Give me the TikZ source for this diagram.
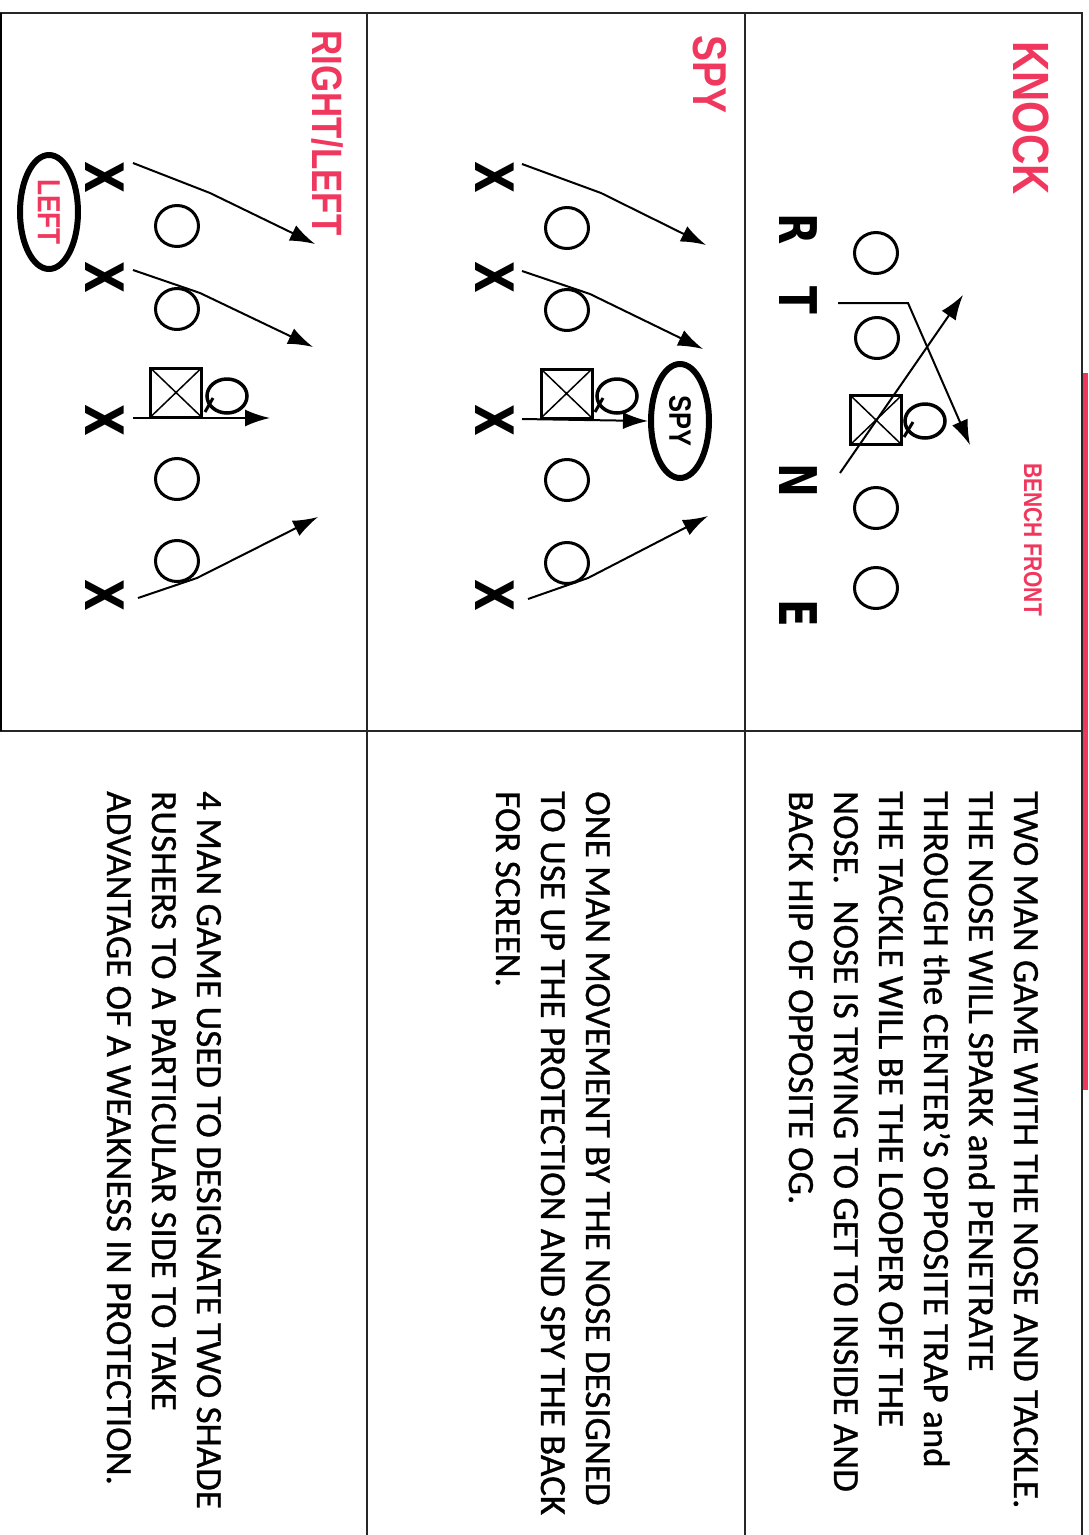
\documentclass[tikz,border=0pt]{standalone}
\usepackage{fontspec}
\setmainfont{Carlito}[FakeBold=0.8]
\newfontfamily\descfont{Carlito}[FakeBold=0.8]
\newfontfamily\titlefont{Liberation Sans}[FakeStretch=0.82]
\newfontfamily\heavyfont{DejaVu Sans}[FakeStretch=0.78]
\usetikzlibrary{arrows.meta,shapes.geometric}
\definecolor{pinkred}{RGB}{240,56,94}
\newcommand\setfs[1]{\fontsize{#1pt}{#1pt}\selectfont}
\begin{document}
\begin{tikzpicture}[x=1pt,y=-1pt,
  rt/.style={rotate=-90,anchor=base west,inner sep=0pt},
  desc/.style={rt,font=\descfont\setfs{37}},
  ttl/.style={rt,text=pinkred,font=\titlefont\bfseries},
  frame/.style={line width=2pt,draw=black!85},
  oman/.style={ellipse,draw,line width=3pt,minimum width=43pt,minimum height=41pt,inner sep=0pt},
  xman/.style={rotate=-90,inner sep=0pt,font=\heavyfont\bfseries\setfs{53}},
  letter/.style={rotate=-90,inner sep=0pt,font=\heavyfont\bfseries\setfs{52}},
  ctr/.style={rectangle,draw,line width=3pt,minimum width=51pt,minimum height=49pt,inner sep=0pt,
    path picture={\draw[line width=1.5pt] (path picture bounding box.north west) -- (path picture bounding box.south east)
      (path picture bounding box.north east) -- (path picture bounding box.south west);}},
  qb/.style={ellipse,draw,line width=3.5pt,minimum width=40pt,minimum height=34pt,inner sep=0pt},
  tail/.style={line width=3pt},
  arr/.style={line width=2pt,-{Latex[length=25pt,width=17pt]}},
  ring/.style={ellipse,draw,line width=6pt,rotate=-90,minimum width=114pt,minimum height=58pt,inner sep=0pt,
    font=\titlefont\bfseries\setfs{31}}
]
\useasboundingbox (0,0) rectangle (1088,1535);

% frame
\fill[pinkred] (1081,373) rectangle (1088,1090);
\draw[frame] (0,13) -- (1083,13);
\draw[frame] (1082,13) -- (1082,1535);
\draw[frame] (367,13) -- (367,1535);
\draw[frame] (745,13) -- (745,1535);
\draw[frame] (0,731) -- (1082,731);
\draw[line width=1.5pt] (1,13) -- (1,731);

% titles
\node[ttl,font=\titlefont\bfseries\setfs{51}] (tknock) at (1013,41) {KNOCK};
\node[ttl,font=\titlefont\bfseries\setfs{25.6}] (tbench) at (1024,463) {BENCH FRONT};
\node[ttl,font=\titlefont\bfseries\setfs{47.5}] (tspy) at (693,35) {SPY};
\node[ttl,font=\titlefont\bfseries\setfs{42.5}] (trl) at (312,30) {RIGHT/LEFT};

% ===== KNOCK diagram =====
\node[oman] (k1) at (876,253) {};
\node[oman] (k2) at (877,338) {};
\node[oman] (k3) at (876,508) {};
\node[oman] (k4) at (876,588) {};
\node[ctr] (kc) at (876,420) {};
\node[qb] (kq) at (925,421) {};
\draw[tail] ([shift={(-12,1)}]kq.center) -- ([shift={(-21,16)}]kq.center);
\node[letter] (lr) at (798,229) {R};
\node[letter] (lt) at (798,300) {T};
\node[letter] (ln) at (798,480) {N};
\node[letter] (le) at (798,613) {E};
\coordinate (ka0) at (838,303);
\coordinate (ka1) at (908,303);
\coordinate (ka2) at (970,445);
\coordinate (kb0) at (840,473);
\coordinate (kb1) at (963,295);
\draw[arr] (ka0) -- (ka1) -- (ka2);
\draw[arr] (kb0) -- (kb1);

% ===== SPY diagram =====
\node[xman] (sx1) at (495,177) {X};
\node[xman] (sx2) at (495,277) {X};
\node[xman] (sx3) at (495,420) {X};
\node[xman] (sx4) at (495,595) {X};
\node[oman] (so1) at (567,228) {};
\node[oman] (so2) at (567,310) {};
\node[oman] (so3) at (567,480) {};
\node[oman] (so4) at (567,563) {};
\node[ctr] (sc) at (566.5,393.5) {};
\node[qb] (sq) at (617,396) {};
\draw[tail] ([shift={(-14,2)}]sq.center) -- ([shift={(-22,16)}]sq.center);
\node[ring] (sspy) at (680,421) {SPY};
\coordinate (sa0) at (522,164);
\coordinate (sa1) at (601,193);
\coordinate (sa2) at (706,245);
\coordinate (sb0) at (522,271);
\coordinate (sb1) at (590,294);
\coordinate (sb2) at (703,349);
\coordinate (sc0) at (522,419);
\coordinate (sd0) at (528,599);
\coordinate (sd1) at (588,578);
\coordinate (sd2) at (708,516);
\draw[arr] (sa0) -- (sa1) -- (sa2);
\draw[arr] (sb0) -- (sb1) -- (sb2);
\draw[arr] (sc0) -- (sspy.south);
\draw[arr] (sd0) -- (sd1) -- (sd2);

% ===== RIGHT/LEFT diagram =====
\node[xman] (rx1) at (105,177) {X};
\node[xman] (rx2) at (105,277) {X};
\node[xman] (rx3) at (105,420) {X};
\node[xman] (rx4) at (105,595) {X};
\node[oman] (ro1) at (177,226) {};
\node[oman] (ro2) at (177,309) {};
\node[oman] (ro3) at (177,479) {};
\node[oman] (ro4) at (177,561) {};
\node[ctr] (rc) at (176,392.5) {};
\node[qb] (rq) at (227,396) {};
\draw[tail] ([shift={(-14,2)}]rq.center) -- ([shift={(-22,16)}]rq.center);
\node[ring,text=pinkred,font=\titlefont\bfseries\setfs{32}] (rleft) at (49,212) {LEFT};
\coordinate (ra0) at (133,163);
\coordinate (ra1) at (210,193);
\coordinate (ra2) at (315,244);
\coordinate (rb0) at (133,270);
\coordinate (rb1) at (200,293);
\coordinate (rb2) at (313,347);
\coordinate (rc0) at (133,418);
\coordinate (rc1) at (270,418);
\coordinate (rd0) at (138,598);
\coordinate (rd1) at (197,578);
\coordinate (rd2) at (318,517);
\draw[arr] (ra0) -- (ra1) -- (ra2);
\draw[arr] (rb0) -- (rb1) -- (rb2);
\draw[arr] (rc0) -- (rc1);
\draw[arr] (rd0) -- (rd1) -- (rd2);

% ===== descriptions =====
\node[desc] (k1t) at (1014,791) {TWO MAN GAME WITH THE NOSE AND TACKLE.};
\node[desc] (k2t) at (969,791) {THE NOSE WILL SPARK and PENETRATE};
\node[desc] (k3t) at (924,791) {THROUGH the CENTER’S OPPOSITE TRAP and};
\node[desc] (k4t) at (879,791) {THE TACKLE WILL BE THE LOOPER OFF THE};
\node[desc] (k5t) at (834,791) {NOSE.\ \ NOSE IS TRYING TO GET TO INSIDE AND};
\node[desc] (k6t) at (789,791) {BACK HIP OF OPPOSITE OG.};

\node[desc] (s1t) at (586,791) {ONE MAN MOVEMENT BY THE NOSE DESIGNED};
\node[desc] (s2t) at (541,791) {TO USE UP THE PROTECTION AND SPY THE BACK};
\node[desc] (s3t) at (496,791) {FOR SCREEN.};

\node[desc] (r1t) at (197,791) {4 MAN GAME USED TO DESIGNATE TWO SHADE};
\node[desc] (r2t) at (152,791) {RUSHERS TO A PARTICULAR SIDE TO TAKE};
\node[desc] (r3t) at (107,791) {ADVANTAGE OF A WEAKNESS IN PROTECTION.};
\end{tikzpicture}
\end{document}
